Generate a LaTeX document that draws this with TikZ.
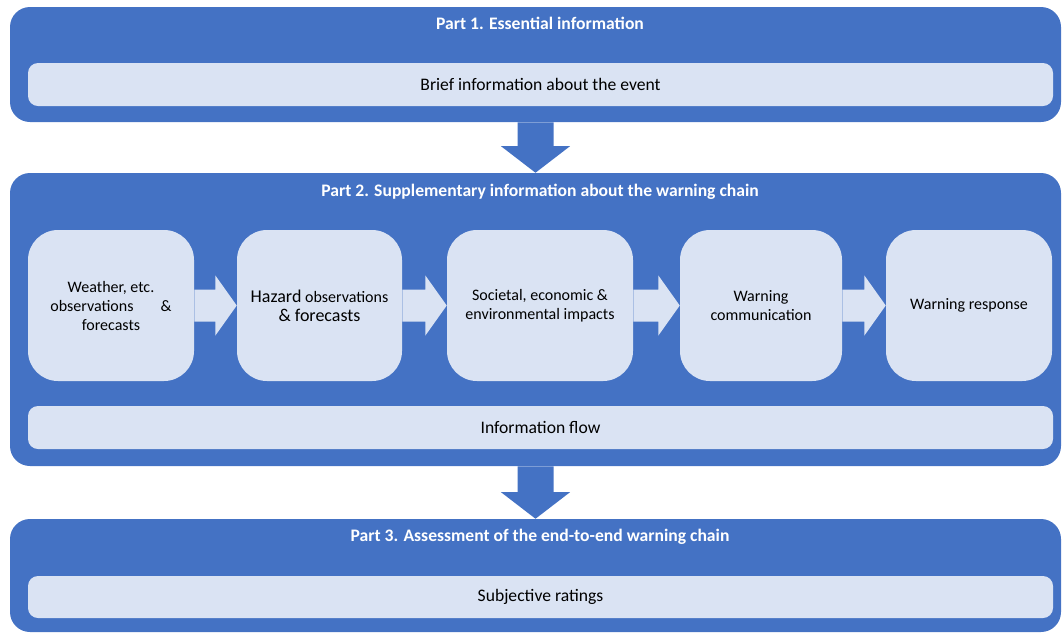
\documentclass[tikz,border=0pt]{standalone}
\usepackage{fontspec}
\setmainfont{Carlito}
\usepackage{tikz}
\usetikzlibrary{calc}
\definecolor{partblue}{HTML}{4472C4}
\definecolor{paleblue}{HTML}{DAE3F3}

\begin{document}
\begin{tikzpicture}[x=0.75pt, y=-0.75pt,
  part/.style={fill=partblue, rounded corners=15pt, minimum width=788.25pt,
    inner sep=0pt},
  bar/.style={fill=paleblue, rounded corners=7.5pt, minimum width=768.75pt,
    inner sep=0pt, font=\fontsize{13.2}{15}\selectfont},
  stage/.style={fill=paleblue, rounded corners=22.5pt, minimum height=113.25pt,
    inner sep=0pt, align=center, font=\fontsize{12}{14.25}\selectfont},
  title/.style={font=\fontsize{13.2}{15}\selectfont\bfseries, text=white},
  fatarrow/.style n args={3}{to path={
    ($(\tikztostart)!#2!90:(\tikztotarget)$)
    -- ($(\tikztotarget)!#1!(\tikztostart)!#2!90:(\tikztotarget)$)
    -- ($(\tikztotarget)!#1!(\tikztostart)!#3!90:(\tikztotarget)$)
    -- (\tikztotarget)
    -- ($(\tikztotarget)!#1!(\tikztostart)!#3!-90:(\tikztotarget)$)
    -- ($(\tikztotarget)!#1!(\tikztostart)!#2!-90:(\tikztotarget)$)
    -- ($(\tikztostart)!#2!-90:(\tikztotarget)$) -- cycle}}
]
  \useasboundingbox (0,0) rectangle (1062,633);

  % three parts
  \node[part, minimum height=86.25pt]  (p1) at (535.5, 64.5)  {};
  \node[part, minimum height=219.75pt] (p2) at (535.5, 319.5) {};
  \node[part, minimum height=84.75pt]  (p3) at (535.5, 575.5) {};

  \node[title] (t1) at (540, 23.5)  {Part 1. Essential information};
  \node[title] (t2) at (540, 191.5) {Part 2. Supplementary information about the warning chain};
  \node[title] (t3) at (540, 536.5) {Part 3. Assessment of the end-to-end warning chain};

  \node[bar, minimum height=32.25pt] (brief) at (540.5, 84.5)  {Brief information about the event};
  \node[bar, minimum height=32.25pt] (flow)  at (540.5, 427.5) {Information flow};
  \node[bar, minimum height=31.5pt]  (rate)  at (540.5, 597)   {Subjective ratings};

  % warning chain
  \node[stage, minimum width=124.5pt]  (obs)    at (111, 305.5)
    {Weather, etc.\\observations\hspace{1.7em}\&\\forecasts};
  \node[stage, minimum width=123.75pt] (hazard) at (319.5, 305.5)
    {{\fontsize{13.5}{14.25}\selectfont Hazard} observations\\{\fontsize{13.5}{14.25}\selectfont\& forecasts}};
  \node[stage, minimum width=139.5pt]  (impact) at (540, 305.5)
    {Societal, economic \&\\environmental impacts};
  \node[stage, minimum width=121.5pt]  (comm)   at (761, 305.5)
    {Warning\\communication};
  \node[stage, minimum width=124.5pt]  (resp)   at (969, 305.5)
    {Warning response};

  \fill[partblue] (p1.south) to[fatarrow={20pt}{13.5pt}{26pt}] (p2.north);
  \fill[partblue] (p2.south) to[fatarrow={20pt}{13.5pt}{26pt}] (p3.north);

  \fill[paleblue] (obs.east)    to[fatarrow={16pt}{12pt}{22.5pt}] (hazard.west);
  \fill[paleblue] (hazard.east) to[fatarrow={16pt}{12pt}{22.5pt}] (impact.west);
  \fill[paleblue] (impact.east) to[fatarrow={16pt}{12pt}{22.5pt}] (comm.west);
  \fill[paleblue] (comm.east)   to[fatarrow={16pt}{12pt}{22.5pt}] (resp.west);
\end{tikzpicture}
\end{document}
